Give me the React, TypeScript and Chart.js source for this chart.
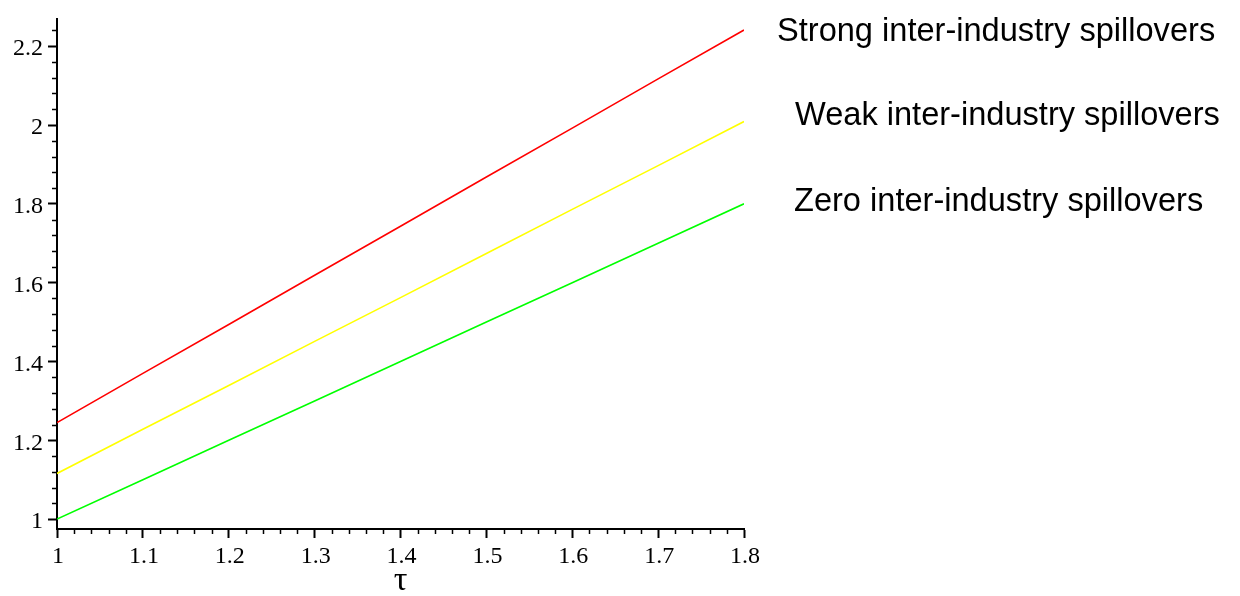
import { useEffect, useRef } from "react";
import { Chart, registerables } from "chart.js";

Chart.register(...registerables);

// τ values (x axis)
const tau = [1.0, 1.1, 1.2, 1.3, 1.4, 1.5, 1.6, 1.7, 1.8];
// series values
const strongSpill = [1.245, 1.37, 1.494, 1.619, 1.743, 1.868, 1.992, 2.117, 2.241];
const weakSpill = [1.116, 1.228, 1.339, 1.451, 1.562, 1.674, 1.786, 1.897, 2.009];
const zeroSpill = [1.0, 1.1, 1.2, 1.3, 1.4, 1.5, 1.6, 1.7, 1.8];
const seriesLabels = [
  "Strong inter-industry spillovers",
  "Weak inter-industry spillovers",
  "Zero inter-industry spillovers",
];
const seriesColors = ["#ff0000", "#ffff00", "#00ff00"];

// tick values and labels
const xTickValues = [1, 1.1, 1.2, 1.3, 1.4, 1.5, 1.6, 1.7, 1.8];
const xTickLabels = ["1", "1.1", "1.2", "1.3", "1.4", "1.5", "1.6", "1.7", "1.8"];
const yTickValues = [1, 1.2, 1.4, 1.6, 1.8, 2, 2.2];
const yTickLabels = ["1", "1.2", "1.4", "1.6", "1.8", "2", "2.2"];
const xRange = [1, 1.8];
const yRange = [0.975, 2.268];
const xMinorStep = 0.02;
const yMinorStep = 0.04;

const minorTicksPlugin = {
  id: "minorTicks",
  afterDraw(chart: any) {
    const ctx = chart.ctx;
    const xs = chart.scales.x;
    const ys = chart.scales.y;
    ctx.save();
    ctx.strokeStyle = "#000";
    ctx.lineWidth = 1.5;
    ctx.beginPath();
    const nx = Math.round((xRange[1] - xRange[0]) / xMinorStep);
    for (let i = 0; i <= nx; i++) {
      if (i % 5 === 0) continue;
      const px = Math.round(xs.getPixelForValue(xRange[0] + i * xMinorStep)) + 0.5;
      ctx.moveTo(px, xs.top);
      ctx.lineTo(px, xs.top + 5);
    }
    const ny = Math.floor((yRange[1] - 1) / yMinorStep + 1e-9);
    for (let i = 0; i <= ny; i++) {
      if (i % 5 === 0) continue;
      const py = Math.round(ys.getPixelForValue(1 + i * yMinorStep)) + 0.5;
      ctx.moveTo(ys.right - 5, py);
      ctx.lineTo(ys.right, py);
    }
    ctx.stroke();
    ctx.restore();
  },
};

// label placement relative to the end of each line (alphabetic baseline)
const labelOffsets = [
  { dx: 33, dy: 11 },
  { dx: 51, dy: 4 },
  { dx: 50, dy: 7 },
];

const seriesLabelPlugin = {
  id: "seriesLabels",
  afterDatasetsDraw(chart: any) {
    const ctx = chart.ctx;
    const ys = chart.scales.y;
    const area = chart.chartArea;
    ctx.save();
    ctx.font = '32.6px "Liberation Sans", Arial, sans-serif';
    ctx.fillStyle = "#000";
    ctx.textAlign = "left";
    ctx.textBaseline = "alphabetic";
    chart.data.datasets.forEach((ds: any, i: number) => {
      const last = ds.data[ds.data.length - 1];
      const y = ys.getPixelForValue(last.y) + labelOffsets[i].dy;
      ctx.fillText(ds.label, area.right + labelOffsets[i].dx, y);
    });
    ctx.restore();
  },
};

export default function App() {
  const ref = useRef<HTMLCanvasElement | null>(null);
  useEffect(() => {
    if (!ref.current) return;
    const series = [strongSpill, weakSpill, zeroSpill];
    const tickFont = { family: '"Liberation Serif", "Times New Roman", serif', size: 24 };
    const chart = new Chart(ref.current, {
      type: "line",
      data: {
        datasets: series.map((vals, i) => ({
          label: seriesLabels[i],
          data: tau.map((t, j) => ({ x: t, y: vals[j] })),
          borderColor: seriesColors[i],
          borderWidth: 1.6,
          pointRadius: 0,
          fill: false,
          tension: 0,
        })),
      },
      options: {
        responsive: false,
        animation: false,
        events: [],
        layout: { padding: { top: 15, right: 496, left: 0, bottom: 0 } },
        plugins: { legend: { display: false }, tooltip: { enabled: false }, title: { display: false } },
        scales: {
          x: {
            type: "linear",
            min: xRange[0],
            max: xRange[1],
            afterBuildTicks: (s: any) => {
              s.ticks = xTickValues.map((v) => ({ value: v }));
            },
            afterFit: (s: any) => {
              s.height = 67;
            },
            ticks: {
              autoSkip: false,
              maxRotation: 0,
              color: "#000",
              font: tickFont,
              padding: 4,
              labelOffset: 1,
              callback: (_v: any, i: number) => xTickLabels[i],
            },
            grid: { drawOnChartArea: false, drawTicks: true, tickLength: 9, tickColor: "#000", tickWidth: 2 },
            border: { display: true, color: "#000", width: 2 },
            title: {
              display: true,
              text: "τ",
              color: "#000",
              font: { family: '"Liberation Serif", "Times New Roman", serif', size: 34, lineHeight: 1 },
              padding: { top: 0, bottom: -2 },
            },
          },
          y: {
            type: "linear",
            min: yRange[0],
            max: yRange[1],
            afterBuildTicks: (s: any) => {
              s.ticks = yTickValues.map((v) => ({ value: v }));
            },
            afterFit: (s: any) => {
              s.width = 57;
            },
            ticks: {
              autoSkip: false,
              color: "#000",
              font: tickFont,
              padding: 5,
              labelOffset: 3,
              callback: (_v: any, i: number) => yTickLabels[i],
            },
            grid: { drawOnChartArea: false, drawTicks: true, tickLength: 9, tickColor: "#000", tickWidth: 2 },
            border: { display: true, color: "#000", width: 2 },
          },
        },
      },
      plugins: [minorTicksPlugin, seriesLabelPlugin],
    });
    return () => chart.destroy();
  }, []);
  return (
    <div style={{ position: "absolute", left: 0, top: 0, width: 1240, height: 596, background: "#fff" }}>
      <canvas ref={ref} width={1240} height={596} style={{ display: "block" }} />
    </div>
  );
}
